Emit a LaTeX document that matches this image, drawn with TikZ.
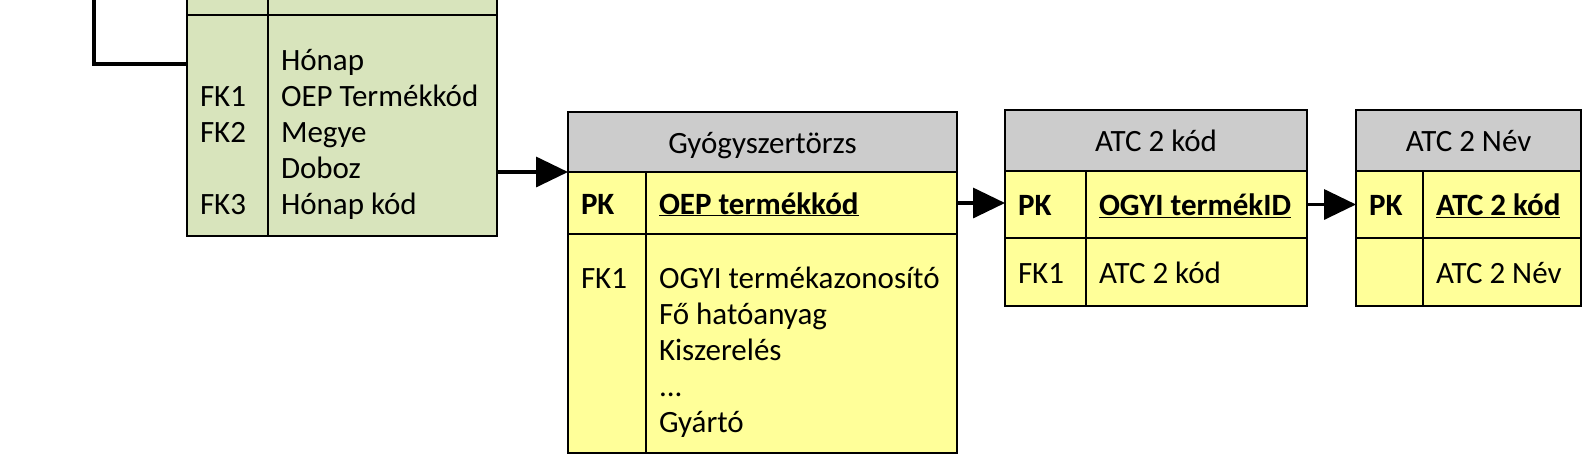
\documentclass[tikz,border=0pt]{standalone}
\usepackage{fontspec}
\setmainfont{Carlito}
\usetikzlibrary{arrows.meta,positioning}
\definecolor{tblgreen}{RGB}{216,228,188}
\definecolor{tblyellow}{RGB}{255,255,153}
\definecolor{tblgrey}{RGB}{204,204,204}
\newcommand{\pkname}[1]{\underline{\textbf{#1}}}

\begin{document}
\begin{tikzpicture}[
    x=1pt, y=-1pt,
    font=\fontsize{31}{36}\selectfont,
    cell/.style={draw, line width=2pt, outer sep=0pt, inner xsep=13pt, inner ysep=0pt,
                 text height=26pt, text depth=4pt, align=flush left, anchor=north west},
    tallcell/.style={text depth=137pt},
    head/.style={cell, fill=tblgrey, align=flush center},
    keycell/.style={cell, fill=tblyellow},
    factcell/.style={cell, fill=tblgreen},
    link/.style={line width=3.5pt},
    fk/.style={link, -{Triangle[length=32pt,width=30pt]}},
]
    \useasboundingbox (0,0) rectangle (1582,456);

    % Fact table (top part runs off the page)
    \node[factcell, text width=55pt, minimum height=75pt] (factkey) at (187,-60) {};
    \node[factcell, text width=203pt, minimum height=75pt] (factkeyname) at (factkey.north east) {};
    \node[factcell, tallcell, text width=55pt, minimum height=221pt] (factfk) at (factkey.south west) {\mbox{}\\FK1\\FK2\\\mbox{}\\FK3};
    \node[factcell, tallcell, text width=203pt, minimum height=221pt] (factcols) at (factfk.north east) {Hónap\\OEP Termékkód\\Megye\\Doboz\\Hónap kód};

    % Gyógyszertörzs
    \node[head, text width=363pt, minimum height=60pt] (gyhead) at (568,112) {Gyógyszertörzs};
    \node[keycell, text width=52pt, minimum height=62pt] (gypk) at (gyhead.south west) {\textbf{PK}};
    \node[keycell, text width=285pt, minimum height=62pt] (gypkname) at (gypk.north east) {\pkname{OEP termékkód}};
    \node[keycell, tallcell, text width=52pt, minimum height=219pt] (gyfk) at (gypk.south west) {FK1};
    \node[keycell, tallcell, text width=285pt, minimum height=219pt] (gycols) at (gyfk.north east) {OGYI termékazonosító\\Fő hatóanyag\\Kiszerelés\\...\\Gyártó};

    % ATC 2 kód
    \node[head, text width=276pt, minimum height=61pt] (atchead) at (1005,110) {ATC 2 kód};
    \node[keycell, text width=55pt, minimum height=67pt] (atcpk) at (atchead.south west) {\textbf{PK}};
    \node[keycell, text width=195pt, minimum height=67pt] (atcpkname) at (atcpk.north east) {\pkname{OGYI termékID}};
    \node[keycell, text width=55pt, minimum height=68pt] (atcfk) at (atcpk.south west) {FK1};
    \node[keycell, text width=195pt, minimum height=68pt] (atccols) at (atcfk.north east) {ATC 2 kód};

    % ATC 2 Név
    \node[head, text width=199pt, minimum height=61pt] (nevhead) at (1356,110) {ATC 2 Név};
    \node[keycell, text width=41pt, minimum height=67pt] (nevpk) at (nevhead.south west) {\textbf{PK}};
    \node[keycell, text width=132pt, minimum height=67pt] (nevpkname) at (nevpk.north east) {\pkname{ATC 2 kód}};
    \node[keycell, text width=41pt, minimum height=68pt] (nevfk) at (nevpk.south west) {};
    \node[keycell, text width=132pt, minimum height=68pt] (nevcols) at (nevfk.north east) {ATC 2 Név};

    % Connectors
    \coordinate (toplink) at (94,-10);
    \coordinate (factin) at (187,64);
    \draw[link] (toplink) |- (factin);
    \draw[fk] (factcols.east |- gyhead.south) -- (gyhead.south west);
    \draw[fk] (gypkname.east) -- (gypkname.east -| atcpk.west);
    \draw[fk] (atcpkname.east) -- (atcpkname.east -| nevpk.west);
\end{tikzpicture}
\end{document}
